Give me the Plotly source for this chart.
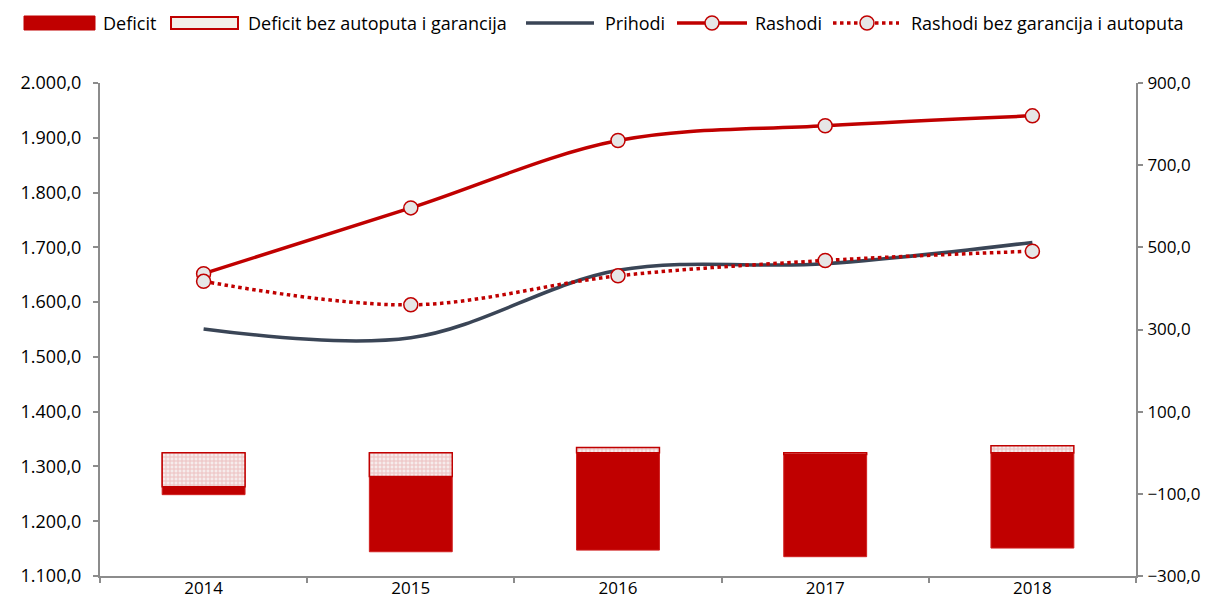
import plotly.graph_objects as go

years = ["2014", "2015", "2016", "2017", "2018"]
prihodi = [1551, 1535, 1658, 1670, 1709]
rashodi = [1652, 1772, 1895, 1922, 1940]
rashodi_bez = [1638, 1595, 1648, 1676, 1693]
deficit = [-102, -241, -237, -253, -232]
deficit_bez = [-83, -58, 13, -4, 17]
legend_names = ["Deficit", "Deficit bez autoputa i garancija", "Prihodi", "Rashodi",
                "Rashodi bez garancija i autoputa"]

RED = "#C00000"
DARK = "#3A4556"
AXIS = "#8C8C8C"
FONT = "Open Sans"
FS = 18

# page body has an 8px margin; figure laid out so plot area sits at screen x 100..1136, y 83..576
W, H = 1194, 594
L, R, T, B = 92, 66, 75, 26
PX0, PX1, PY0, PY1 = 100, 1136, 83, 576


def px(X):
    return (X - PX0) / (PX1 - PX0)


def py(Y):
    return (PY1 - Y) / (PY1 - PY0)


fig = go.Figure()
fig.add_trace(go.Bar(
    x=years, y=deficit, name=legend_names[0], yaxis="y2", width=0.4,
    marker=dict(color=RED, line=dict(color="#D02020", width=1)),
))
fig.add_trace(go.Bar(
    x=years, y=deficit_bez, name=legend_names[1], yaxis="y2", width=0.4,
    marker=dict(color="#F5F0EA", line=dict(color=RED, width=1.5),
                pattern=dict(shape="+", fgcolor="#E39494", bgcolor="#F6ECEC", size=4, solidity=0.45)),
))
fig.add_trace(go.Scatter(
    x=years, y=prihodi, name=legend_names[2], mode="lines",
    line=dict(color=DARK, width=3.5, shape="spline", smoothing=1),
))
fig.add_trace(go.Scatter(
    x=years, y=rashodi, name=legend_names[3], mode="lines+markers",
    line=dict(color=RED, width=3.5, shape="spline", smoothing=1),
    marker=dict(size=14, color="#E6E6E6", line=dict(color=RED, width=1.5)),
))
fig.add_trace(go.Scatter(
    x=years, y=rashodi_bez, name=legend_names[4], mode="lines+markers",
    line=dict(color=RED, width=3.5, dash="dot", shape="spline", smoothing=1),
    marker=dict(size=14, color="#E6E6E6", line=dict(color=RED, width=1.5)),
))

# custom legend (screen-pixel layout converted to paper coords)
LY = 23
shapes = []
annotations = []
shapes.append(dict(type="rect", xref="paper", yref="paper", x0=px(24), x1=px(95),
                   y0=py(LY + 7), y1=py(LY - 7), fillcolor=RED, line=dict(color=RED, width=1)))
shapes.append(dict(type="rect", xref="paper", yref="paper", x0=px(171), x1=px(238),
                   y0=py(LY + 6), y1=py(LY - 6), fillcolor="#F3EFE8", line=dict(color=RED, width=2)))
shapes.append(dict(type="line", xref="paper", yref="paper", x0=px(526), x1=px(594),
                   y0=py(LY), y1=py(LY), line=dict(color=DARK, width=3.5)))
shapes.append(dict(type="line", xref="paper", yref="paper", x0=px(677), x1=px(747),
                   y0=py(LY), y1=py(LY), line=dict(color=RED, width=3.5)))
shapes.append(dict(type="line", xref="paper", yref="paper", x0=px(833), x1=px(899),
                   y0=py(LY), y1=py(LY), line=dict(color=RED, width=3.5, dash="dot")))
for cx in (712, 867):
    shapes.append(dict(type="circle", xref="paper", yref="paper", x0=px(cx - 7), x1=px(cx + 7),
                       y0=py(LY + 7), y1=py(LY - 7), fillcolor="#E6E6E6",
                       line=dict(color=RED, width=1.5)))
for name, x0 in zip(legend_names, [101, 246, 603, 753, 909]):
    annotations.append(dict(text=name, xref="paper", yref="paper", x=px(x0), y=py(LY),
                            xanchor="left", yanchor="middle", showarrow=False,
                            font=dict(family=FONT, size=FS, color="#000000")))

fig.update_layout(
    width=W, height=H,
    margin=dict(l=L, r=R, t=T, b=B),
    paper_bgcolor="white", plot_bgcolor="white",
    barmode="overlay",
    separators=",.",
    showlegend=False,
    font=dict(family=FONT, size=FS, color="#000000"),
    shapes=shapes,
    annotations=annotations,
    xaxis=dict(type="category", showline=True, linecolor=AXIS, linewidth=2,
               ticks="outside", tickson="boundaries", ticklen=5, tickcolor=AXIS, tickwidth=1.5,
               showgrid=False, tickfont=dict(size=17), automargin=False, ticklabelstandoff=-4),
    yaxis=dict(range=[1100, 2000], dtick=100, tickformat=",.1f", showline=True, linecolor=AXIS,
               linewidth=2, ticks="outside", ticklen=5, tickcolor=AXIS, tickwidth=1.5,
               showgrid=False, zeroline=False, tickfont=dict(size=FS), automargin=False,
               ticklabelstandoff=8),
    yaxis2=dict(range=[-300, 900], tick0=-300, dtick=200, tickformat=",.1f", overlaying="y",
                side="right", showline=True, linecolor=AXIS, linewidth=2, ticks="outside",
                ticklen=5, tickcolor=AXIS, tickwidth=1.5, showgrid=False, zeroline=False,
                tickfont=dict(size=17), automargin=False, ticklabelstandoff=1),
)

fig.write_html("out.html")
